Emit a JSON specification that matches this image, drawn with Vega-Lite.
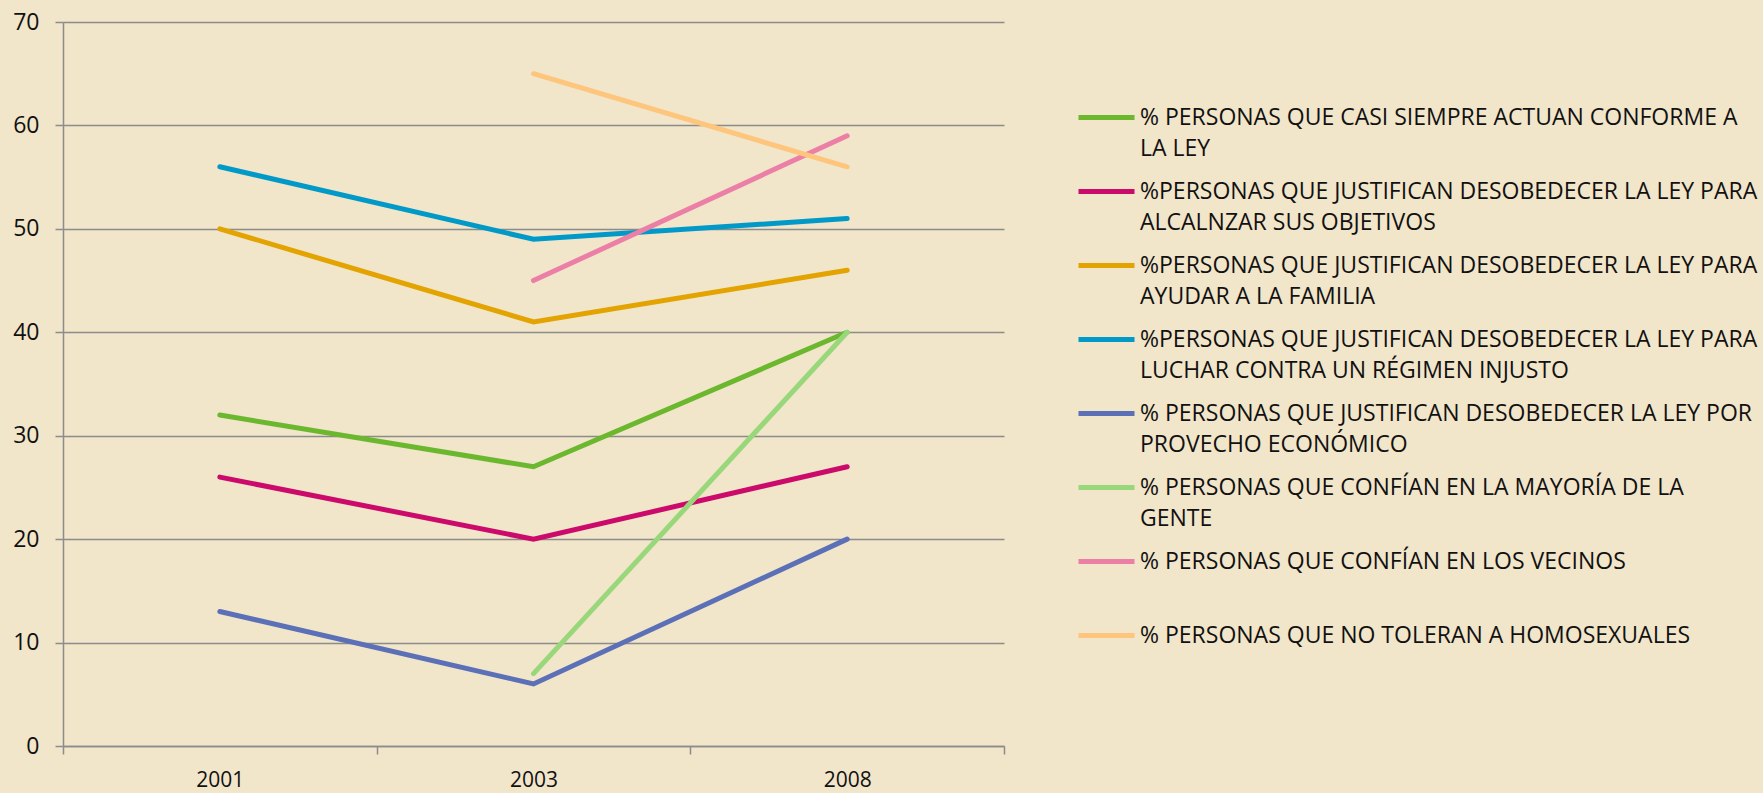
{
  "$schema": "https://vega.github.io/schema/vega-lite/v6.json",
  "width": 941,
  "height": 724,
  "autosize": {"type": "none"},
  "padding": {"left": 63, "top": 22, "right": 759, "bottom": 47},
  "background": "#f1e5ca",
  "config": {
    "view": {"stroke": null},
    "font": "Open Sans"
  },
  "data": {
    "values": [
      {"serie": "% PERSONAS QUE CASI SIEMPRE ACTUAN CONFORME A LA LEY", "anio": "2001", "valor": 32},
      {"serie": "% PERSONAS QUE CASI SIEMPRE ACTUAN CONFORME A LA LEY", "anio": "2003", "valor": 27},
      {"serie": "% PERSONAS QUE CASI SIEMPRE ACTUAN CONFORME A LA LEY", "anio": "2008", "valor": 40},
      {"serie": "%PERSONAS QUE JUSTIFICAN DESOBEDECER LA LEY PARA ALCALNZAR SUS OBJETIVOS", "anio": "2001", "valor": 26},
      {"serie": "%PERSONAS QUE JUSTIFICAN DESOBEDECER LA LEY PARA ALCALNZAR SUS OBJETIVOS", "anio": "2003", "valor": 20},
      {"serie": "%PERSONAS QUE JUSTIFICAN DESOBEDECER LA LEY PARA ALCALNZAR SUS OBJETIVOS", "anio": "2008", "valor": 27},
      {"serie": "%PERSONAS QUE JUSTIFICAN DESOBEDECER LA LEY PARA AYUDAR A LA FAMILIA", "anio": "2001", "valor": 50},
      {"serie": "%PERSONAS QUE JUSTIFICAN DESOBEDECER LA LEY PARA AYUDAR A LA FAMILIA", "anio": "2003", "valor": 41},
      {"serie": "%PERSONAS QUE JUSTIFICAN DESOBEDECER LA LEY PARA AYUDAR A LA FAMILIA", "anio": "2008", "valor": 46},
      {"serie": "%PERSONAS QUE JUSTIFICAN DESOBEDECER LA LEY PARA LUCHAR CONTRA UN RÉGIMEN INJUSTO", "anio": "2001", "valor": 56},
      {"serie": "%PERSONAS QUE JUSTIFICAN DESOBEDECER LA LEY PARA LUCHAR CONTRA UN RÉGIMEN INJUSTO", "anio": "2003", "valor": 49},
      {"serie": "%PERSONAS QUE JUSTIFICAN DESOBEDECER LA LEY PARA LUCHAR CONTRA UN RÉGIMEN INJUSTO", "anio": "2008", "valor": 51},
      {"serie": "% PERSONAS QUE JUSTIFICAN DESOBEDECER LA LEY POR PROVECHO ECONÓMICO", "anio": "2001", "valor": 13},
      {"serie": "% PERSONAS QUE JUSTIFICAN DESOBEDECER LA LEY POR PROVECHO ECONÓMICO", "anio": "2003", "valor": 6},
      {"serie": "% PERSONAS QUE JUSTIFICAN DESOBEDECER LA LEY POR PROVECHO ECONÓMICO", "anio": "2008", "valor": 20},
      {"serie": "% PERSONAS QUE CONFÍAN EN LA MAYORÍA DE LA GENTE", "anio": "2003", "valor": 7},
      {"serie": "% PERSONAS QUE CONFÍAN EN LA MAYORÍA DE LA GENTE", "anio": "2008", "valor": 40},
      {"serie": "% PERSONAS QUE CONFÍAN EN LOS VECINOS", "anio": "2003", "valor": 45},
      {"serie": "% PERSONAS QUE CONFÍAN EN LOS VECINOS", "anio": "2008", "valor": 59},
      {"serie": "% PERSONAS QUE NO TOLERAN A HOMOSEXUALES", "anio": "2003", "valor": 65},
      {"serie": "% PERSONAS QUE NO TOLERAN A HOMOSEXUALES", "anio": "2008", "valor": 56}
    ]
  },
  "mark": {"type": "line", "strokeWidth": 5, "strokeCap": "round", "strokeJoin": "miter"},
  "encoding": {
    "x": {
      "field": "anio",
      "type": "ordinal",
      "bandPosition": 0.5,
      "scale": {"type": "band", "paddingInner": 0, "paddingOuter": 0},
      "axis": {
        "title": null,
        "labelAngle": 0,
        "tickBand": "extent",
        "labelFont": "Open Sans",
        "labelFontSize": 21,
        "labelColor": "#111111",
        "labelPadding": 15,
        "domainColor": "#8c8c8c",
        "domainWidth": 1.5,
        "tickColor": "#8c8c8c",
        "tickWidth": 1.5,
        "tickSize": 8,
        "grid": false
      }
    },
    "y": {
      "field": "valor",
      "type": "quantitative",
      "scale": {"domain": [0, 70], "nice": false},
      "axis": {
        "title": null,
        "values": [0, 10, 20, 30, 40, 50, 60, 70],
        "labelFont": "Open Sans",
        "labelFontSize": 23,
        "labelColor": "#111111",
        "labelPadding": 16,
        "domainColor": "#8c8c8c",
        "domainWidth": 1.5,
        "tickColor": "#8c8c8c",
        "tickWidth": 1.5,
        "tickSize": 8,
        "grid": true,
        "gridColor": "#8c8c8c",
        "gridWidth": 1.5,
        "gridOpacity": 1
      }
    },
    "color": {
      "field": "serie",
      "type": "nominal",
      "scale": {
        "domain": [
          "% PERSONAS QUE CASI SIEMPRE ACTUAN CONFORME A LA LEY",
          "%PERSONAS QUE JUSTIFICAN DESOBEDECER LA LEY PARA ALCALNZAR SUS OBJETIVOS",
          "%PERSONAS QUE JUSTIFICAN DESOBEDECER LA LEY PARA AYUDAR A LA FAMILIA",
          "%PERSONAS QUE JUSTIFICAN DESOBEDECER LA LEY PARA LUCHAR CONTRA UN RÉGIMEN INJUSTO",
          "% PERSONAS QUE JUSTIFICAN DESOBEDECER LA LEY POR PROVECHO ECONÓMICO",
          "% PERSONAS QUE CONFÍAN EN LA MAYORÍA DE LA GENTE",
          "% PERSONAS QUE CONFÍAN EN LOS VECINOS",
          "% PERSONAS QUE NO TOLERAN A HOMOSEXUALES"
        ],
        "range": ["#6bb82f", "#cc0a6b", "#e3a300", "#0099c8", "#5b70b7", "#99d87a", "#ec7fa6", "#fec57c"]
      },
      "legend": {
        "title": null,
        "orient": "none",
        "legendX": 1013,
        "legendY": 65,
        "symbolType": "stroke",
        "symbolSize": 3136,
        "symbolStrokeWidth": 5,
        "labelFont": "Open Sans",
        "labelFontSize": 23,
        "labelColor": "#111111",
        "labelOffset": 3,
        "labelLimit": 740,
        "rowPadding": 0,
        "encode": {"labels": {"update": {"lineHeight": {"value": 31.5}}}},
        "labelExpr": "datum.label == '% PERSONAS QUE CASI SIEMPRE ACTUAN CONFORME A LA LEY' ? ['% PERSONAS QUE CASI SIEMPRE ACTUAN CONFORME A', 'LA LEY'] : datum.label == '%PERSONAS QUE JUSTIFICAN DESOBEDECER LA LEY PARA ALCALNZAR SUS OBJETIVOS' ? ['%PERSONAS QUE JUSTIFICAN DESOBEDECER LA LEY PARA', 'ALCALNZAR SUS OBJETIVOS'] : datum.label == '%PERSONAS QUE JUSTIFICAN DESOBEDECER LA LEY PARA AYUDAR A LA FAMILIA' ? ['%PERSONAS QUE JUSTIFICAN DESOBEDECER LA LEY PARA', 'AYUDAR A LA FAMILIA'] : datum.label == '%PERSONAS QUE JUSTIFICAN DESOBEDECER LA LEY PARA LUCHAR CONTRA UN RÉGIMEN INJUSTO' ? ['%PERSONAS QUE JUSTIFICAN DESOBEDECER LA LEY PARA', 'LUCHAR CONTRA UN RÉGIMEN INJUSTO'] : datum.label == '% PERSONAS QUE JUSTIFICAN DESOBEDECER LA LEY POR PROVECHO ECONÓMICO' ? ['% PERSONAS QUE JUSTIFICAN DESOBEDECER LA LEY POR', 'PROVECHO ECONÓMICO'] : datum.label == '% PERSONAS QUE CONFÍAN EN LA MAYORÍA DE LA GENTE' ? ['% PERSONAS QUE CONFÍAN EN LA MAYORÍA DE LA', 'GENTE'] : datum.label == '% PERSONAS QUE CONFÍAN EN LOS VECINOS' ? ['% PERSONAS QUE CONFÍAN EN LOS VECINOS', ' '] : datum.label"
      }
    }
  }
}
